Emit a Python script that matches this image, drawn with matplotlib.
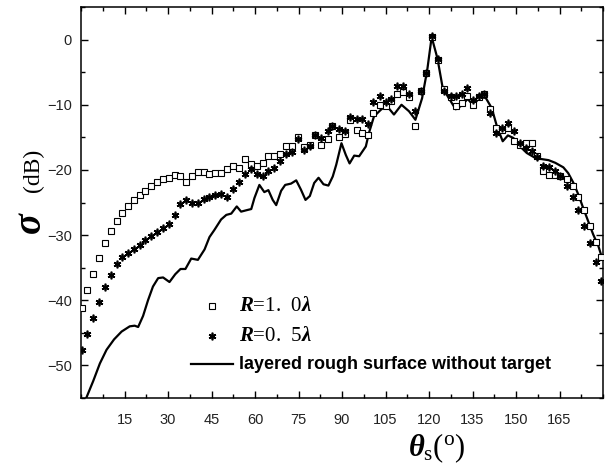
import matplotlib
matplotlib.use("Agg")
import matplotlib.pyplot as plt
from matplotlib.ticker import MultipleLocator
from matplotlib.lines import Line2D

plt.rcParams['mathtext.fontset'] = 'custom'
plt.rcParams['mathtext.rm'] = 'Liberation Serif'
plt.rcParams['mathtext.it'] = 'Liberation Serif:italic:bold'
plt.rcParams['mathtext.bf'] = 'Liberation Serif:bold'
plt.rcParams['font.family'] = ['Liberation Sans', 'DejaVu Sans']

# R = 1.0 lambda (open squares)
sq_angle = [0.3, 2.0, 4.0, 6.2, 8.2, 10.2, 12.3, 14.2, 16.3, 18.2, 20.3, 22.2, 24.3, 26.2,
            28.3, 30.3, 32.3, 34.3, 36.3, 38.4, 40.3, 42.4, 44.3, 46.3, 48.4, 50.4, 52.3,
            54.4, 56.4, 58.7, 60.7, 62.6, 64.6, 66.7, 68.6, 70.7, 72.6, 74.7, 77.0, 78.9,
            80.8, 82.7, 85.0, 86.7, 88.8, 91.0, 92.8, 95.0, 97.0, 99.0, 100.8, 103.1,
            105.0, 106.8, 109.0, 111.1, 113.1, 115.1, 117.2, 118.8, 121.1, 123.1, 125.1,
            127.4, 129.3, 131.3, 133.2, 135.2, 137.1, 139.1, 141.1, 143.1, 145.1, 147.2,
            149.4, 151.2, 153.5, 155.4, 157.2, 159.2, 161.3, 163.3, 165.3, 167.5, 169.5,
            171.5, 173.4, 175.5, 177.4, 179.3]
sq_sigma = [-41.2, -38.5, -35.9, -33.5, -31.2, -29.3, -27.8, -26.6, -25.5, -24.6, -23.8,
            -23.2, -22.5, -21.9, -21.4, -21.3, -20.8, -20.9, -21.8, -21.0, -20.3, -20.3,
            -20.7, -20.5, -20.4, -19.8, -19.4, -19.7, -18.3, -19.1, -19.4, -18.9, -17.8,
            -17.8, -17.6, -16.3, -16.3, -14.9, -16.5, -16.2, -14.7, -16.1, -15.2, -13.3,
            -15.0, -14.5, -12.3, -13.8, -14.4, -14.7, -11.2, -10.0, -10.2, -9.4, -8.3,
            -8.1, -8.8, -13.2, -7.9, -5.2, 0.4, -3.1, -7.6, -8.8, -10.2, -9.7, -8.6,
            -10.1, -8.8, -8.4, -10.6, -13.6, -13.8, -13.5, -15.5, -16.1, -15.9, -15.9,
            -17.8, -20.1, -20.8, -20.8, -21.0, -21.4, -22.4, -24.1, -26.1, -28.6, -31.0,
            -33.3]

# R = 0.5 lambda (asterisks)
st_angle = sq_angle
st_sigma = [-47.7, -45.2, -42.7, -40.3, -38.0, -36.1, -34.5, -33.4, -32.8, -32.1, -31.5,
            -30.8, -30.2, -29.6, -28.9, -28.3, -26.9, -25.2, -24.6, -25.1, -25.1, -24.4,
            -24.2, -23.8, -23.7, -24.2, -22.9, -21.8, -20.7, -19.8, -20.6, -20.9, -20.2,
            -19.7, -18.7, -17.5, -17.2, -15.3, -17.0, -16.3, -14.6, -15.1, -14.0, -13.2,
            -13.7, -14.0, -11.9, -12.2, -12.2, -13.0, -9.6, -8.6, -9.6, -9.1, -7.1, -7.1,
            -8.3, -10.9, -7.9, -5.2, 0.6, -3.0, -7.9, -8.6, -8.7, -8.3, -7.4, -9.2, -8.7,
            -8.4, -11.2, -14.4, -13.6, -12.8, -14.1, -15.9, -16.6, -17.1, -18.0, -19.4,
            -19.6, -20.2, -21.0, -22.5, -24.2, -26.1, -28.6, -31.2, -34.2, -37.1]

# layered rough surface without target (solid line)
ln_angle = [1.5, 1.8, 4.2, 6.5, 8.8, 11.4, 14.0, 16.8, 18.5, 19.7, 21.4, 23.1, 24.8, 26.6,
            28.3, 30.5, 32.5, 34.3, 36.0, 38.0, 40.3, 42.6, 44.3, 46.0, 48.3, 50.1, 51.8,
            53.7, 55.2, 56.9, 58.7, 59.8, 61.5, 63.2, 64.6, 66.1, 67.3, 69.0, 70.4, 72.4,
            74.2, 75.8, 77.4, 78.9, 80.4, 81.9, 83.6, 85.3, 86.8, 88.0, 89.8, 91.3, 92.6,
            94.2, 95.9, 98.2, 99.3, 101.0, 103.3, 105.3, 107.9, 110.5, 113.1, 115.3,
            117.6, 119.4, 120.9, 122.9, 124.7, 126.7, 129.2, 131.3, 133.3, 135.3, 137.3,
            139.5, 141.6, 143.4, 145.4, 147.2, 149.1, 151.4, 153.7, 156.0, 158.3, 161.2,
            163.5, 166.3, 168.0, 169.8, 171.5, 173.2, 174.9, 176.6, 178.4, 179.3]
ln_sigma = [-55.6, -55.0, -52.4, -49.7, -47.6, -46.0, -44.8, -44.0, -43.9, -44.1, -42.4,
            -40.0, -37.9, -36.6, -36.5, -37.2, -36.0, -35.2, -35.2, -33.6, -33.8, -32.2,
            -30.3, -29.2, -27.6, -26.9, -26.7, -25.6, -26.4, -26.2, -26.0, -24.3, -22.3,
            -23.4, -23.1, -24.6, -25.4, -23.2, -22.3, -22.1, -21.6, -23.0, -24.6, -24.0,
            -22.0, -21.2, -22.2, -22.4, -21.0, -19.2, -15.9, -17.7, -19.0, -17.8, -17.9,
            -16.4, -14.3, -11.8, -10.8, -10.1, -11.5, -10.0, -11.0, -12.3, -9.0, -4.6,
            0.4, -2.9, -7.4, -8.9, -10.7, -10.1, -9.1, -10.1, -8.9, -8.9, -10.5, -13.3,
            -15.6, -14.7, -15.1, -16.4, -17.4, -18.0, -18.3, -18.5, -18.9, -19.6, -20.5,
            -22.0, -23.8, -25.9, -27.9, -29.9, -31.7, -33.0]

x_ticks = [15, 30, 45, 60, 75, 90, 105, 120, 135, 150, 165]
y_ticks = [0, -10, -20, -30, -40, -50]

fig = plt.figure(figsize=(6.11, 4.74), dpi=100)
ax = fig.add_axes([0.1326, 0.1603, 0.8544, 0.8249])

ax.plot(ln_angle, ln_sigma, color='black', linewidth=1.6, zorder=2)
ax.plot(sq_angle, sq_sigma, linestyle='none', marker='s', markersize=4.2,
        markerfacecolor='white', markeredgecolor='black', markeredgewidth=0.8, zorder=3)
ax.plot(st_angle, st_sigma, linestyle='none', marker=(6, 2, 0), markersize=5.5,
        color='black', markeredgewidth=1.2, zorder=4)

ax.set_xlim(0, 180)
ax.set_ylim(-55, 5)
ax.set_xticks(x_ticks)
ax.set_yticks(y_ticks)
ax.xaxis.set_minor_locator(MultipleLocator(7.5))
ax.yaxis.set_minor_locator(MultipleLocator(5))
ax.tick_params(which='both', direction='in', top=True, right=True, labelsize=10.5,
               labelcolor='#222222')
ax.tick_params(which='major', length=5, width=1)
ax.tick_params(which='minor', length=3, width=1)
ax.tick_params(axis='x', which='major', pad=11)
ax.tick_params(axis='y', which='major', pad=6.5)
for s in ax.spines.values():
    s.set_linewidth(1.1)

# axis labels
fig.text(0.715, 0.055, r'$\theta_{\mathrm{s}}(^{\mathrm{o}})$',
         fontsize=22, ha='center', va='center')
fig.text(0.051, 0.53, r'$\sigma$', fontsize=28, rotation=90, ha='center', va='center',
         family='Liberation Serif')
fig.text(0.054, 0.64, '(dB)', fontsize=17, rotation=90, ha='center', va='center',
         family='Liberation Serif')

handles = [
    Line2D([], [], linestyle='none', marker='s', markersize=4.2, markerfacecolor='white',
           markeredgecolor='black', markeredgewidth=0.8),
    Line2D([], [], linestyle='none', marker=(6, 2, 0), markersize=5.5, color='black',
           markeredgewidth=1.2),
    Line2D([], [], color='black', linewidth=1.6),
]
labels = [r'$R$=1.  0$\lambda$', r'$R$=0.  5$\lambda$', 'layered rough surface without target']
leg = ax.legend(handles, labels, loc='upper left', bbox_to_anchor=(0.2, 0.272),
                frameon=False, handlelength=3.0, handletextpad=0.45, labelspacing=0.75,
                borderaxespad=0)
texts = leg.get_texts()
for t in texts[:2]:
    t.set_fontsize(15)
    t.set_family('Liberation Serif')
texts[2].set_fontsize(13)
texts[2].set_fontweight('bold')

fig.savefig('out.png', dpi=100)
